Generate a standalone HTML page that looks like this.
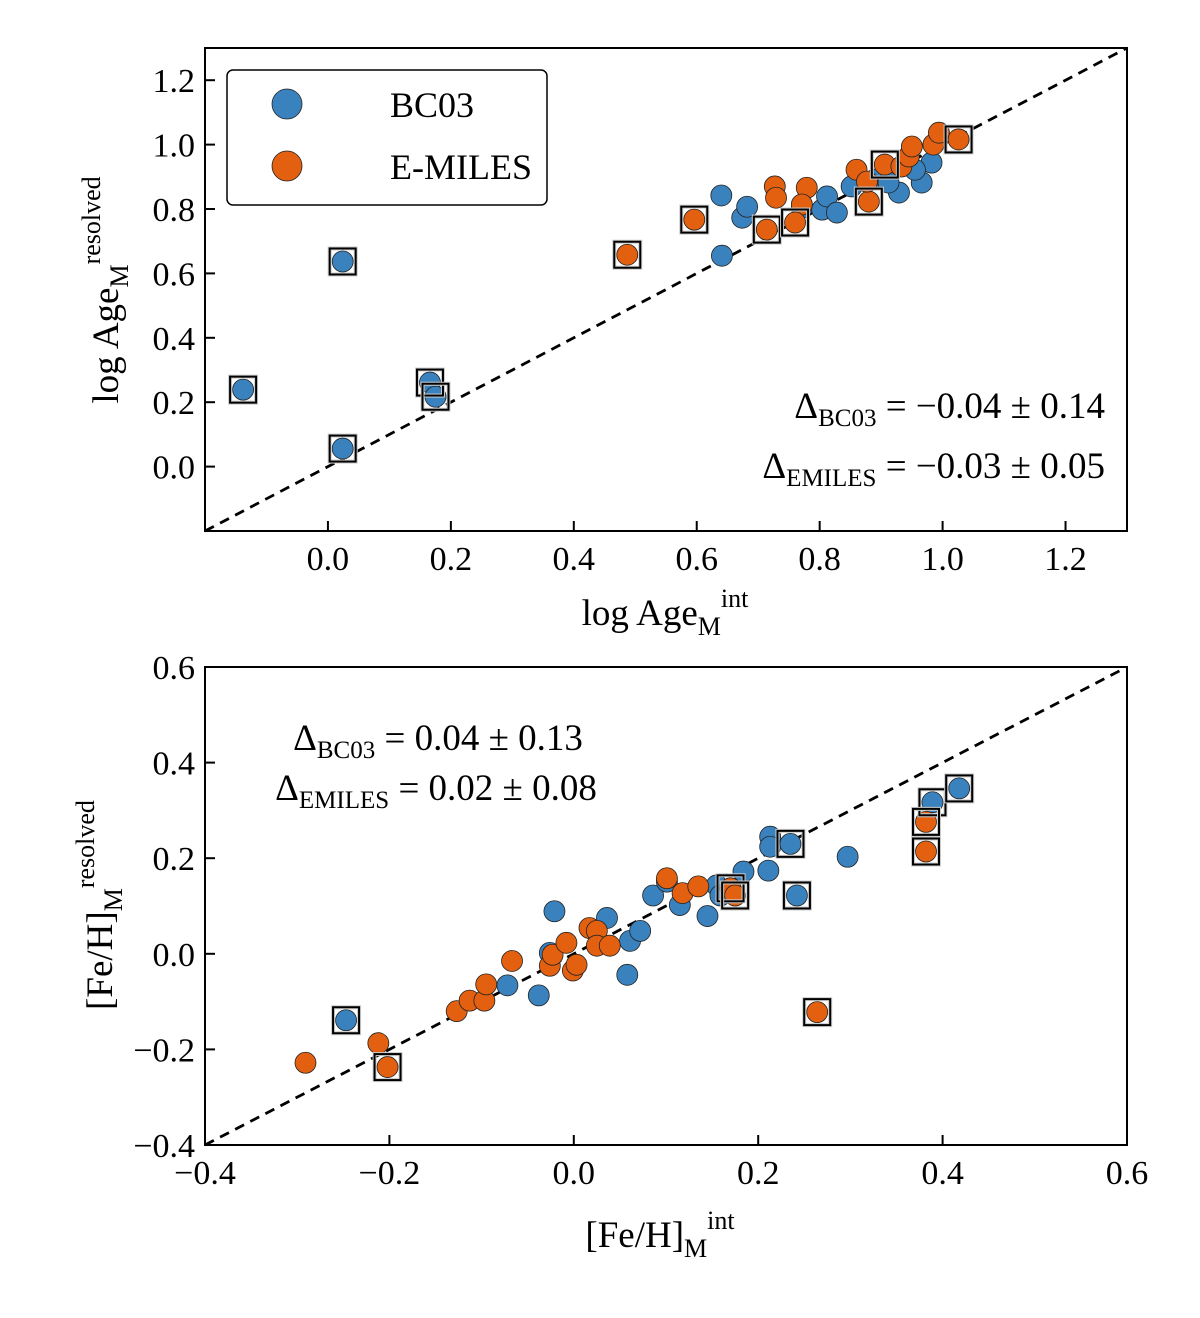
<!DOCTYPE html>
<html><head><meta charset="utf-8"><style>
body{margin:0;background:#fff}
svg{display:block;font-family:"Liberation Serif",serif}
</style></head><body>
<svg id="fig" width="1200" height="1318" xmlns="http://www.w3.org/2000/svg"></svg>
<script>
// ---- Top panel data (log Age) ----
const ageBcX=[-0.138,0.024,0.024,0.166,0.175,0.640,0.641,0.674,0.682,0.771,0.804,0.812,0.828,0.852,0.890,0.929,0.966,0.982,0.955,0.912];
const ageBcY=[0.239,0.637,0.056,0.261,0.217,0.842,0.655,0.773,0.807,0.804,0.798,0.839,0.789,0.870,0.891,0.851,0.882,0.944,0.922,0.882];
const ageBcSq=[1,1,1,1,1,0,0,0,0,0,0,0,0,0,0,0,0,0,0,0];
const ageEmX=[0.487,0.596,0.714,0.727,0.729,0.779,0.771,0.760,0.860,0.880,0.877,0.906,0.933,0.945,0.950,0.985,0.994,1.026];
const ageEmY=[0.658,0.767,0.736,0.870,0.835,0.866,0.814,0.758,0.922,0.823,0.885,0.938,0.932,0.963,0.994,1.000,1.037,1.016];
const ageEmSq=[1,1,1,0,0,0,0,1,0,1,0,1,0,0,0,0,0,1];
const ageTicks=[0.0,0.2,0.4,0.6,0.8,1.0,1.2];
// ---- Bottom panel data ([Fe/H]) ----
const fehBcX=[-0.247,-0.072,-0.038,-0.026,-0.021,0.036,0.061,0.072,0.058,0.086,0.101,0.115,0.145,0.155,0.159,0.184,0.211,0.213,0.213,0.235,0.242,0.297,0.389,0.418];
const fehBcY=[-0.139,-0.066,-0.087,0.002,0.089,0.075,0.027,0.048,-0.044,0.122,0.151,0.102,0.079,0.143,0.122,0.172,0.174,0.245,0.224,0.230,0.122,0.203,0.317,0.346];
const fehBcSq=[1,0,0,0,0,0,0,0,0,0,0,0,0,0,0,0,0,0,0,1,1,0,1,1];
const fehEmX=[-0.291,-0.212,-0.202,-0.127,-0.113,-0.097,-0.095,-0.067,-0.026,-0.023,-0.008,-0.001,0.003,0.017,0.025,0.025,0.039,0.101,0.118,0.135,0.170,0.175,0.382,0.382,0.264];
const fehEmY=[-0.228,-0.187,-0.237,-0.120,-0.098,-0.098,-0.064,-0.015,-0.025,-0.002,0.023,-0.035,-0.023,0.054,0.048,0.017,0.017,0.158,0.127,0.141,0.137,0.122,0.276,0.214,-0.122];
const fehEmSq=[0,0,1,0,0,0,0,0,0,0,0,0,0,0,0,0,0,0,0,0,1,1,1,1,1];
const fehTicks=[-0.4,-0.2,0.0,0.2,0.4,0.6];

const NS="http://www.w3.org/2000/svg";
const svg=document.getElementById('fig');
function mk(tag,attrs,parent){const e=document.createElementNS(NS,tag);for(const k in attrs)e.setAttribute(k,attrs[k]);(parent||svg).appendChild(e);return e;}
const BLUE="#3a82be",ORANGE="#e2600f";

function panel(name,L,R,T,B,xmin,xmax,ymin,ymax,ticks,fmt,series){
  const g=mk('g',{});
  
  
  const sx=v=>L+(v-xmin)/(xmax-xmin)*(R-L);
  const sy=v=>B-(v-ymin)/(ymax-ymin)*(B-T);
  const lo=Math.max(xmin,ymin),hi=Math.min(xmax,ymax);
  const line=mk('line',{x1:sx(lo),y1:sy(lo),x2:sx(hi),y2:sy(hi),stroke:'#000','stroke-width':2.8,'stroke-dasharray':'10,7'},g);
  
  
  series.forEach(s=>{
    s.x.forEach((xv,i)=>{
      const c=mk('circle',{cx:sx(xv),cy:sy(s.y[i]),r:10.5,fill:s.color,stroke:'#222','stroke-width':0.8},g);
      
      
    });
  });
  series.forEach(s=>{
    s.x.forEach((xv,i)=>{
      if(!s.sq[i])return;
      const cx=sx(xv),cy=sy(s.y[i]);
      mk('rect',{x:cx-13,y:cy-13,width:26,height:26,fill:'none',stroke:'#ccc','stroke-width':4},g);
      const r=mk('rect',{x:cx-13,y:cy-13,width:26,height:26,fill:'none',stroke:'#000','stroke-width':2},g);
      
      
    });
  });
  const fr=mk('rect',{x:L,y:T,width:R-L,height:B-T,fill:'none',stroke:'#000','stroke-width':2},g);
  
  
  ticks.forEach(t=>{
    if(t>=xmin-1e-9&&t<=xmax+1e-9){
      mk('line',{x1:sx(t),y1:B,x2:sx(t),y2:B-10,stroke:'#000','stroke-width':2},g);
      const tx=mk('text',{x:sx(t),y:B+39,'font-size':34,'text-anchor':'middle'},g);
      tx.textContent=fmt(t);
      
      
    }
    if(t>=ymin-1e-9&&t<=ymax+1e-9){
      mk('line',{x1:L,y1:sy(t),x2:L+10,y2:sy(t),stroke:'#000','stroke-width':2},g);
      const ty=mk('text',{x:L-10,y:sy(t)+12,'font-size':34,'text-anchor':'end'},g);
      ty.textContent=fmt(t);
      
      
    }
  });
  return g;
}
const fmt=v=>(v<0?'\u2212':'')+Math.abs(v).toFixed(1);
panel('age-panel',205,1127,48,531,-0.2,1.3,-0.2,1.3,ageTicks,fmt,[
 {key:'bc03',x:ageBcX,y:ageBcY,sq:ageBcSq,color:BLUE},
 {key:'emiles',x:ageEmX,y:ageEmY,sq:ageEmSq,color:ORANGE}]);
panel('feh-panel',205,1127,667,1145,-0.4,0.6,-0.4,0.6,fehTicks,fmt,[
 {key:'bc03',x:fehBcX,y:fehBcY,sq:fehBcSq,color:BLUE},
 {key:'emiles',x:fehEmX,y:fehEmY,sq:fehEmSq,color:ORANGE}]);
</script>
<svg style="position:absolute;left:0;top:0" width="1200" height="1318" xmlns="http://www.w3.org/2000/svg" font-family="Liberation Serif, serif">
 <g>
  <rect x="227" y="70" width="320" height="135" rx="6" fill="#fff" stroke="#000" stroke-width="1.5"/>
  <circle cx="287" cy="104" r="15" fill="#3a82be" stroke="#222" stroke-width="0.8"/>
  <text x="390" y="117" font-size="36">BC03</text>
  <circle cx="287" cy="166" r="15" fill="#e2600f" stroke="#222" stroke-width="0.8"/>
  <text x="390" y="179" font-size="36">E-MILES</text>
 </g>
 <g font-size="37" text-anchor="end">
  <text x="1105" y="418">Δ<tspan font-size="25" dy="8">BC03</tspan><tspan dy="-8"> = −0.04 ± 0.14</tspan></text>
  <text x="1105" y="478">Δ<tspan font-size="25" dy="8">EMILES</tspan><tspan dy="-8"> = −0.03 ± 0.05</tspan></text>
 </g>
 <g font-size="37" text-anchor="middle">
  <text x="438" y="750">Δ<tspan font-size="25" dy="8">BC03</tspan><tspan dy="-8"> = 0.04 ± 0.13</tspan></text>
  <text x="436" y="800">Δ<tspan font-size="25" dy="8">EMILES</tspan><tspan dy="-8"> = 0.02 ± 0.08</tspan></text>
 </g>
 <text x="665" y="625" font-size="37" text-anchor="middle">log Age<tspan font-size="26" dy="10">M</tspan><tspan font-size="26" dy="-28">int</tspan></text>
 <text transform="translate(118,290) rotate(-90)" font-size="37" text-anchor="middle">log Age<tspan font-size="26" dy="10">M</tspan><tspan font-size="26" dy="-28">resolved</tspan></text>
 <text x="660" y="1247" font-size="37" text-anchor="middle">[Fe/H]<tspan font-size="26" dy="10">M</tspan><tspan font-size="26" dy="-28">int</tspan></text>
 <text transform="translate(112,905) rotate(-90)" font-size="37" text-anchor="middle">[Fe/H]<tspan font-size="26" dy="10">M</tspan><tspan font-size="26" dy="-28">resolved</tspan></text>
</svg>
</body></html>
